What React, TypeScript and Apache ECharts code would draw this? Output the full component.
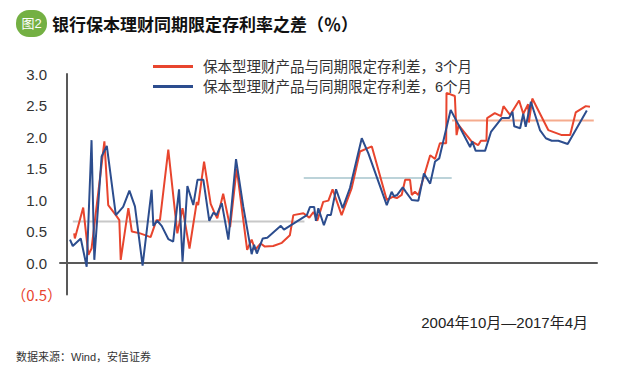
import React, { useEffect, useRef } from "react";
import * as echarts from "echarts";

// x = months since 2004-10 (0 = 2004-10, 150 = 2017-04)
const seriesNames = ["保本型理财产品与同期限定存利差，3个月", "保本型理财产品与同期限定存利差，6个月"];

const months3 = [1.2, 1.4, 3.8, 5.3, 6.2, 9.9, 11.0, 13.2, 14.2, 14.6, 16.8, 17.8, 20.2, 23.2, 24.9, 25.9, 28.3, 30.9, 32.4, 34.4, 36.5, 36.9, 38.6, 40.5, 41.5, 42.4, 44.1, 46.1, 48.0, 51.0, 52.3, 53.3, 54.9, 56.1, 58.5, 61.0, 63.3, 64.3, 67.2, 68.9, 70.1, 71.2, 72.9, 74.4, 75.6, 78.2, 81.1, 83.5, 86.9, 91.2, 92.9, 94.1, 95.5, 96.5, 97.9, 98.4, 99.3, 100.3, 103.7, 105.1, 106.5, 108.3, 108.4, 110.8, 111.3, 111.9, 115.6, 117.5, 118.3, 119.9, 120.1, 122.3, 124.1, 124.8, 126.7, 129.3, 130.5, 131.9, 132.1, 133.1, 137.7, 141.6, 144.0, 145.6, 148.5, 149.7];
const values3 = [0.47, 0.39, 0.88, 0.13, 0.23, 1.93, 0.92, 0.76, 0.68, 0.05, 0.87, 0.50, 0.47, 0.41, 0.68, 0.68, 1.80, 0.47, 0.87, 0.23, 0.97, 0.92, 1.61, 0.94, 0.81, 0.71, 1.10, 0.57, 1.50, 0.21, 0.37, 0.21, 0.31, 0.26, 0.27, 0.32, 0.44, 0.76, 0.79, 0.72, 0.81, 0.67, 0.97, 0.99, 1.17, 0.76, 1.19, 1.77, 1.85, 1.00, 1.05, 1.03, 1.08, 1.32, 1.32, 1.08, 1.13, 1.08, 1.71, 1.65, 1.90, 1.90, 2.70, 2.65, 2.03, 2.19, 1.93, 1.87, 1.94, 1.94, 2.30, 2.38, 2.33, 2.49, 2.35, 2.58, 2.37, 2.52, 2.23, 2.61, 2.11, 2.03, 2.03, 2.39, 2.49, 2.48];

const months6 = [0.0, 0.8, 3.1, 4.8, 6.2, 7.0, 9.1, 10.6, 13.2, 15.3, 17.1, 18.7, 20.9, 23.5, 24.0, 25.1, 26.4, 28.3, 29.7, 31.4, 32.4, 33.8, 35.5, 36.7, 38.4, 40.1, 41.3, 42.2, 43.7, 45.6, 47.8, 49.9, 52.3, 53.0, 53.8, 55.5, 56.8, 60.7, 61.6, 68.2, 69.1, 70.3, 70.8, 71.5, 73.1, 74.1, 75.1, 76.6, 78.5, 80.6, 84.0, 85.9, 91.2, 92.6, 93.3, 94.2, 95.8, 96.7, 98.4, 100.3, 101.9, 103.7, 105.1, 106.3, 109.6, 115.2, 115.8, 116.8, 119.5, 121.2, 124.3, 126.4, 127.4, 127.9, 129.6, 130.5, 131.2, 132.7, 135.3, 137.0, 138.7, 140.6, 143.3, 148.8];
const values6 = [0.37, 0.27, 0.39, -0.06, 1.95, 0.05, 1.69, 1.86, 0.76, 0.89, 1.15, 0.90, -0.04, 1.16, 0.59, 0.67, 0.59, 0.38, 0.34, 1.17, 0.02, 1.22, 0.92, 1.32, 1.32, 0.67, 0.80, 0.76, 0.95, 0.37, 1.65, 0.89, 0.14, 0.29, 0.15, 0.39, 0.40, 0.59, 0.53, 0.76, 0.89, 0.89, 0.67, 0.87, 0.60, 0.76, 0.76, 1.17, 0.87, 1.19, 1.98, 1.74, 0.92, 1.13, 1.06, 1.08, 1.20, 1.13, 1.00, 0.99, 1.42, 1.26, 1.61, 1.66, 2.43, 1.84, 1.93, 1.78, 1.78, 2.08, 2.30, 2.30, 2.40, 2.17, 2.14, 2.37, 2.16, 2.56, 2.11, 1.98, 1.94, 1.94, 1.89, 2.42];

// period averages
const avgStart = [0.8, 67.3, 110.0];
const avgEnd = [67.5, 109.9, 150.8];
const avgValues = [0.66, 1.35, 2.26];
const avgColors = ["#c8c8c8", "#bcd3d9", "#f5ab8e"];

const yMin = -0.5;
const yMax = 3.0;
const yStep = 0.5;

const titleText = "银行保本理财同期限定存利率之差（％）";
const badgeText = "图2";
const rangeText = "2004年10月—2017年4月";
const sourceText = "数据来源：Wind，安信证券";

const RED = "#e8452e";
const BLUE = "#2c4d8e";
const FONT = "'Liberation Sans', Arial, 'Noto Sans CJK SC', sans-serif";
const CJK = "'Noto Sans CJK JP', 'Noto Sans CJK SC', sans-serif";

export default function App() {
  const ref = useRef<HTMLDivElement>(null);
  useEffect(() => {
    if (!ref.current) return;
    const chart = echarts.init(ref.current, undefined, { renderer: "svg" });
    const avgSeries = avgValues.map((v, i) => ({
      type: "line",
      name: "avg" + i,
      data: [
        [avgStart[i], v],
        [avgEnd[i], v],
      ],
      showSymbol: false,
      silent: true,
      z: 1,
      lineStyle: { color: avgColors[i], width: 2 },
    }));
    chart.setOption({
      animation: false,
      textStyle: { fontFamily: FONT },
      grid: { left: 60, right: 24, top: 74, bottom: 80.5, containLabel: false },
      legend: {
        data: seriesNames.map((n) => ({ name: n, icon: "rect" })),
        orient: "vertical",
        left: 148,
        top: 53.5,
        itemWidth: 40,
        itemHeight: 3,
        itemGap: 4,
        selectedMode: false,
        textStyle: {
          fontSize: 14.5,
          color: "#333",
          fontFamily: FONT,
          lineHeight: 16,
          padding: [0, 0, 0, 5],
        },
      },
      xAxis: {
        type: "value",
        min: -2.88,
        max: 151.73,
        axisLine: { show: true, onZero: true, lineStyle: { color: "#595959", width: 2 } },
        axisTick: { show: false },
        axisLabel: { show: false },
        splitLine: { show: false },
      },
      yAxis: {
        type: "value",
        min: yMin,
        max: yMax,
        interval: yStep,
        offset: -7,
        axisLine: { show: true, onZero: false, lineStyle: { color: "#595959", width: 2 } },
        axisTick: { show: false },
        splitLine: { show: false },
        axisLabel: {
          margin: 5,
          formatter: (v: number) =>
            v < 0 ? `{neg|（${Math.abs(v).toFixed(1)}）}` : `{pos|${v.toFixed(1)}}`,
          rich: {
            pos: { fontSize: 15, color: "#333", fontFamily: FONT, padding: [0, 15, 0, 0] },
            neg: { fontSize: 15, color: "#e8452e", fontFamily: CJK },
          },
        },
      },
      series: [
        ...avgSeries,
        {
          type: "line",
          name: seriesNames[0],
          data: months3.map((m, i) => [m, values3[i]]),
          showSymbol: false,
          z: 3,
          color: RED,
          lineStyle: { color: RED, width: 2 },
        },
        {
          type: "line",
          name: seriesNames[1],
          data: months6.map((m, i) => [m, values6[i]]),
          showSymbol: false,
          z: 4,
          color: BLUE,
          lineStyle: { color: BLUE, width: 2 },
        },
      ],
      graphic: [
        {
          type: "rect",
          shape: { x: 16, y: 10, width: 31, height: 27, r: 13 },
          style: { fill: "#74b043" },
        },
        {
          type: "text",
          x: 31.5,
          y: 23.5,
          style: {
            text: badgeText,
            fill: "#fff",
            font: `13px ${FONT}`,
            textAlign: "center",
            textVerticalAlign: "middle",
          },
        },
        {
          type: "text",
          x: 52,
          y: 23.5,
          style: {
            text: titleText,
            fill: "#111",
            font: `bold 17px ${CJK}`,
            textAlign: "left",
            textVerticalAlign: "middle",
          },
        },
        {
          type: "text",
          x: 588,
          y: 322,
          style: {
            text: rangeText,
            fill: "#222",
            font: `15px ${FONT}`,
            textAlign: "right",
            textVerticalAlign: "middle",
          },
        },
        {
          type: "text",
          x: 16,
          y: 357,
          style: {
            text: sourceText,
            fill: "#333",
            font: `11px ${FONT}`,
            textAlign: "left",
            textVerticalAlign: "middle",
          },
        },
      ],
    });
    return () => chart.dispose();
  }, []);
  return (
    <div
      ref={ref}
      style={{ position: "absolute", left: 0, top: 0, width: 621, height: 375, background: "#fff" }}
    />
  );
}
